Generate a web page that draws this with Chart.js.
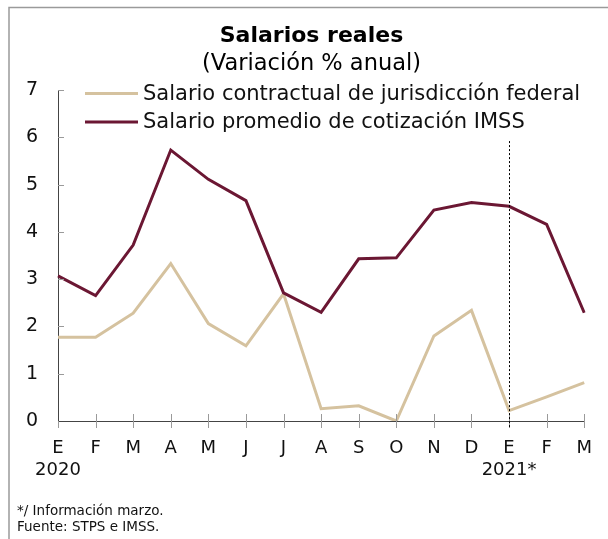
<!DOCTYPE html>
<html lang="es">
<head>
<meta charset="UTF-8">
<title>Salarios reales</title>
<script src="https://cdn.jsdelivr.net/npm/chart.js"></script>
<style>
  html, body { margin: 0; padding: 0; background: #fff; }
  canvas { display: block; }
</style>
</head>
<body>
<canvas id="salariosChart" width="608" height="539"></canvas>
<script>
  // meses ene-2020 a mar-2021
  const meses = ['E', 'F', 'M', 'A', 'M', 'J', 'J', 'A', 'S', 'O', 'N', 'D', 'E', 'F', 'M'];
  const anios = ['2020', '', '', '', '', '', '', '', '', '', '', '', '2021*', '', ''];
  const contractual = [1.77, 1.77, 2.28, 3.33, 2.06, 1.59, 2.69, 0.26, 0.32, 0.0, 1.80, 2.34, 0.22, 0.51, 0.81];
  const imss = [3.07, 2.65, 3.72, 5.73, 5.11, 4.66, 2.71, 2.30, 3.43, 3.45, 4.46, 4.62, 4.54, 4.16, 2.29];
  const corte = 12;      // enero 2021, linea punteada
  const corteTope = 5.92; // hasta donde sube la linea punteada

  const FONT = '"DejaVu Sans", sans-serif';
  const etiquetas = meses.map((m, i) => anios[i] ? [m, anios[i]] : m);

  const decoracion = {
    id: 'decoracion',
    beforeDraw(chart) {
      const ctx = chart.ctx;
      ctx.save();
      // marco gris
      ctx.strokeStyle = '#9a9a9a';
      ctx.lineWidth = 1.5;
      ctx.beginPath();
      ctx.moveTo(9, chart.height);
      ctx.lineTo(9, 7.5);
      ctx.lineTo(chart.width, 7.5);
      ctx.stroke();
      // titulo
      ctx.fillStyle = '#000';
      ctx.textAlign = 'center';
      ctx.textBaseline = 'alphabetic';
      ctx.font = 'bold 22px ' + FONT;
      ctx.fillText('Salarios reales', 311.5, 41.5);
      ctx.font = '22.5px ' + FONT;
      ctx.fillText('(Variación % anual)', 311.5, 70);
      // notas
      ctx.textAlign = 'left';
      ctx.fillStyle = '#111';
      ctx.font = '13.5px ' + FONT;
      ctx.fillText('*/ Información marzo.', 17, 514.5);
      ctx.fillText('Fuente: STPS e IMSS.', 17, 530.5);
      ctx.restore();
    },
    afterDraw(chart) {
      const { ctx, chartArea: a, scales: { x, y } } = chart;
      ctx.save();
      ctx.strokeStyle = '#9a9a9a';
      ctx.lineWidth = 1;
      ctx.beginPath();
      // marcas del eje y hacia dentro
      y.ticks.forEach(t => {
        if (t.value === 0) return;
        const py = Math.round(y.getPixelForValue(t.value)) + 0.5;
        ctx.moveTo(a.left, py);
        ctx.lineTo(a.left + 6, py);
      });
      // marcas del eje x cruzando el eje
      x.ticks.forEach((t, i) => {
        const px = Math.round(x.getPixelForTick(i)) + 0.5;
        ctx.moveTo(px, i === 0 ? a.bottom : a.bottom - 7);
        ctx.lineTo(px, a.bottom + 7);
      });
      ctx.stroke();

      // linea punteada en enero 2021
      const cx = Math.round(x.getPixelForValue(corte)) + 0.5;
      ctx.strokeStyle = '#000';
      ctx.setLineDash([2, 2]);
      ctx.beginPath();
      ctx.moveTo(cx, y.getPixelForValue(corteTope));
      ctx.lineTo(cx, a.bottom + 7);
      ctx.stroke();
      ctx.setLineDash([]);

      // leyenda
      ctx.font = '21px ' + FONT;
      ctx.textAlign = 'left';
      ctx.textBaseline = 'middle';
      chart.data.datasets.forEach((ds, i) => {
        const ly = 93.5 + i * 28.4;
        ctx.strokeStyle = ds.borderColor;
        ctx.lineWidth = 3;
        ctx.beginPath();
        ctx.moveTo(85, ly);
        ctx.lineTo(138, ly);
        ctx.stroke();
        ctx.fillStyle = '#111';
        ctx.fillText(ds.label, 143, ly + 1);
      });
      ctx.restore();
    }
  };

  new Chart(document.getElementById('salariosChart'), {
    type: 'line',
    data: {
      labels: etiquetas,
      datasets: [
        {
          label: 'Salario contractual de jurisdicción federal',
          data: contractual,
          borderColor: '#D5C29F',
          borderWidth: 3,
          order: 1
        },
        {
          label: 'Salario promedio de cotización IMSS',
          data: imss,
          borderColor: '#6B1733',
          borderWidth: 3,
          order: 0
        }
      ]
    },
    options: {
      responsive: false,
      animation: false,
      layout: { padding: { top: 90, right: 20, left: 0, bottom: 0 } },
      elements: {
        line: { tension: 0, fill: false },
        point: { radius: 0, hoverRadius: 0 }
      },
      scales: {
        x: {
          type: 'category',
          offset: false,
          grid: { display: false, drawTicks: false },
          border: { display: true, color: '#444', width: 1 },
          ticks: {
            color: '#111',
            font: { family: FONT, size: 18, lineHeight: 1.25 },
            padding: 16,
            maxRotation: 0,
            autoSkip: false
          },
          afterFit(s) { s.height = 118; }
        },
        y: {
          min: 0,
          max: 7,
          grid: { display: false, drawTicks: false },
          border: { display: true, color: '#444', width: 1 },
          ticks: {
            stepSize: 1,
            color: '#111',
            font: { family: FONT, size: 19 },
            padding: 20
          },
          afterFit(s) { s.width = 58; }
        }
      },
      plugins: {
        legend: { display: false },
        title: { display: false },
        tooltip: { enabled: false }
      }
    },
    plugins: [decoracion]
  });
</script>
</body>
</html>
